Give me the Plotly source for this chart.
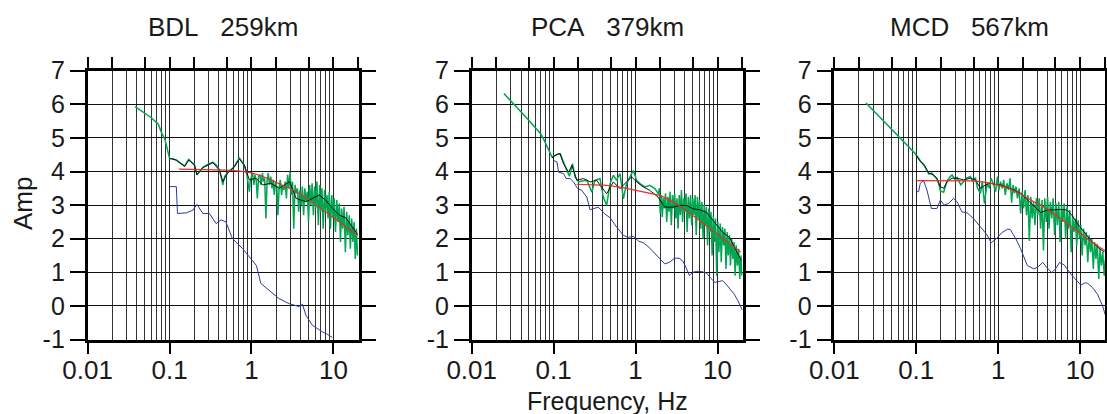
import math
import plotly.graph_objects as go

# ---------------- data ----------------
titles = ["BDL\u00a0\u00a0\u00a0259km", "PCA\u00a0\u00a0\u00a0379km", "MCD\u00a0\u00a0\u00a0567km"]
y_tick_vals = [-1, 0, 1, 2, 3, 4, 5, 6, 7]
y_tick_text = ["-1", "0", "1", "2", "3", "4", "5", "6", "7"]
x_tick_vals = [0.01, 0.1, 1, 10]
x_tick_text = ["0.01", "0.1", "1", "10"]
x_top_tick_vals = [0.01, 0.02, 0.05, 0.1, 0.2, 0.5, 1, 2, 5, 10, 20]

# BDL
bdl_green_f = [0.038, 0.06, 0.073, 0.08, 0.088, 0.1,
               0.11, 0.121, 0.135, 0.153, 0.165, 0.172, 0.185, 0.202, 0.216, 0.235, 0.255, 0.29, 0.338, 0.37,
               0.407, 0.43, 0.447, 0.47, 0.514, 0.56, 0.619, 0.67, 0.713, 0.76, 0.819, 0.88, 0.942, 0.97, 1.0,
               1.03, 1.07, 1.1, 1.14, 1.18, 1.22, 1.27, 1.31, 1.36, 1.4, 1.45, 1.5, 1.55, 1.6, 1.66, 1.72, 1.78,
               1.84, 1.9, 1.97, 2.04, 2.1, 2.18, 2.25, 2.33, 2.41, 2.5, 2.58, 2.67, 2.76, 2.86, 2.96, 3.06, 3.17,
               3.28, 3.4, 3.52, 3.64, 3.77, 3.9, 4.04, 4.18, 4.33, 4.48, 4.63, 4.8, 4.97, 5.14, 5.32, 5.5, 5.7,
               5.9, 6.1, 6.3, 6.55, 6.8, 7.0, 7.25, 7.5, 7.8, 8.05, 8.35, 8.6, 8.9, 9.2, 9.55, 9.9, 10.2, 10.6,
               11.0, 11.4, 11.8, 12.2, 12.6, 13.0, 13.5, 14.0, 14.5, 15.0, 15.6, 16.1, 16.7, 17.3, 17.9, 18.5,
               19.1, 19.7]
bdl_green_a = [5.93, 5.6, 5.41, 5.15, 4.95, 4.39,
               4.38, 4.34, 4.25, 4.16, 4.3, 4.36, 4.28, 4.19, 3.9, 4.02, 4.12, 4.2, 4.28, 4.2,
               4.04, 3.8, 3.6, 3.85, 3.98, 4.05, 4.15, 4.3, 4.4, 4.3, 4.18, 3.9, 3.4, 3.75, 3.85,
               3.95, 3.6, 3.9, 3.75, 3.2, 3.85, 3.9, 3.6, 3.95, 3.7, 3.8, 2.6, 3.7, 3.95, 3.6, 3.85, 3.5,
               3.75, 3.3, 3.7, 3.55, 2.7, 3.55, 3.75, 3.3, 3.6, 3.45, 3.7, 3.2, 3.9, 3.5, 3.98, 3.3, 3.7,
               2.3, 3.6, 3.35, 3.5, 2.8, 3.45, 3.0, 3.55, 2.7, 3.5, 3.1, 3.4, 2.5, 3.6, 3.0, 3.65, 2.7,
               3.55, 2.9, 3.7, 2.4, 3.6, 2.8, 3.5, 2.3, 3.45, 2.8, 3.3, 2.6, 3.4, 2.3, 3.3, 2.6, 3.2, 2.2,
               3.15, 2.5, 3.05, 1.9, 2.9, 2.3, 2.95, 1.6, 2.8, 2.1, 2.7, 1.7, 2.6, 1.9, 2.5, 1.4,
               2.3, 1.5]
bdl_black_f = [0.1, 0.121, 0.153, 0.172, 0.202, 0.216, 0.255, 0.338, 0.407, 0.447, 0.514, 0.619, 0.713,
               0.819, 0.942, 1.135, 1.368, 1.728, 2.18, 2.92, 3.5, 4.6, 6.7, 8.0, 9.8, 11.8, 14.2, 17.2, 19.8]
bdl_black_a = [4.39, 4.34, 4.16, 4.34, 4.19, 3.9, 4.12, 4.26, 4.04, 3.7, 3.96, 4.14, 4.37,
               4.19, 3.75, 3.8, 3.6, 3.65, 3.5, 3.7, 3.2, 3.1, 3.3, 3.15, 2.9, 2.7, 2.62, 2.35, 2.12]
bdl_red_f = [0.13, 0.3, 0.5, 0.72, 1.0, 1.27, 1.7, 2.2, 2.9, 3.85, 5.0, 6.7, 8.9, 11.8, 15.3, 19.7]
bdl_red_a = [4.07, 4.06, 4.04, 4.01, 3.96, 3.88, 3.77, 3.63, 3.5, 3.34, 3.17, 2.94, 2.72, 2.49, 2.3, 2.1]
bdl_blue_f = [0.1, 0.121, 0.125, 0.16, 0.193, 0.216, 0.255, 0.307, 0.37, 0.425, 0.487, 0.587, 0.776,
              1.03, 1.15, 1.3, 1.63, 2.16, 2.86, 3.79, 4.2, 4.6, 5.5, 7.3, 8.5, 9.7]
bdl_blue_a = [3.55, 3.55, 2.75, 2.77, 2.85, 3.02, 2.75, 2.75, 2.45, 2.56, 2.5, 2.0, 1.71,
              1.36, 1.2, 0.67, 0.47, 0.22, 0.07, -0.02, 0.05, -0.27, -0.57, -0.77, -0.85, -0.94]

# PCA
pca_green_f = [0.0247, 0.031, 0.05, 0.0689, 0.075, 0.0955,
               0.11, 0.12, 0.135, 0.145, 0.156, 0.17, 0.183, 0.201, 0.22, 0.254, 0.292, 0.32, 0.368, 0.404,
               0.444, 0.488, 0.535, 0.588, 0.645, 0.71, 0.777, 0.854, 0.937, 1.03, 1.13, 1.3, 1.49, 1.72, 1.89,
               1.95, 2.0, 2.06, 2.12, 2.18, 2.25, 2.32, 2.4, 2.48, 2.56, 2.64, 2.73, 2.82, 2.91, 3.0, 3.1, 3.2,
               3.3, 3.41, 3.52, 3.63, 3.75, 3.87, 4.0, 4.13, 4.26, 4.4, 4.54, 4.69, 4.84, 5.0, 5.16, 5.33, 5.5,
               5.68, 5.86, 6.05, 6.25, 6.45, 6.66, 6.88, 7.1, 7.33, 7.57, 7.82, 8.07, 8.33, 8.6, 8.88, 9.17,
               9.47, 9.78, 10.1, 10.4, 10.8, 11.1, 11.5, 11.9, 12.3, 12.7, 13.1, 13.5, 14.0, 14.4, 14.9, 15.4,
               15.9, 16.4, 16.9, 17.5, 18.1, 18.7, 19.3, 19.9]
pca_green_a = [6.32, 6.07, 5.52, 5.13, 4.98, 4.43,
               4.51, 4.53, 4.18, 4.03, 3.86, 4.23, 3.84, 3.69, 3.72, 3.74, 3.39, 3.74, 3.79, 3.24,
               2.99, 3.64, 3.89, 3.74, 3.94, 3.19, 3.64, 3.84, 4.03, 3.74, 3.64, 3.54, 3.59, 3.49, 3.34,
               3.5, 2.75, 3.3, 2.65, 3.2, 2.9, 3.35, 2.5, 3.25, 2.8, 3.4, 2.4, 3.3, 2.9, 3.35, 2.6, 3.2,
               2.3, 3.3, 2.7, 3.45, 2.5, 3.2, 2.8, 3.35, 2.2, 3.25, 2.6, 3.3, 2.4, 3.2, 2.7, 3.3, 2.1,
               3.25, 2.6, 3.15, 2.3, 3.1, 2.0, 3.0, 2.4, 2.95, 1.8, 2.9, 2.2, 2.8, 1.5, 2.7, 1.9,
               2.6, 0.9, 2.5, 1.6, 2.45, 1.3, 2.35, 1.8, 2.3, 1.1, 2.2, 1.5, 2.1, 1.2, 2.0, 1.4,
               1.9, 0.9, 1.8, 1.2, 1.7, 0.8, 1.5, 0.9]
pca_black_f = [0.0955, 0.110, 0.120, 0.132, 0.152, 0.167, 0.192, 0.231, 0.279, 0.336, 0.369, 0.444, 0.535,
               0.645, 0.777, 0.894, 1.03, 1.24, 1.49, 1.88, 2.27, 2.86, 3.45, 4.16, 5.01, 6.04, 7.28, 8.77,
               11.6, 14.0, 17.1, 19.6]
pca_black_a = [4.41, 4.51, 4.53, 4.23, 3.98, 4.18, 3.74, 3.79, 3.69, 3.74, 3.59, 3.34, 3.69,
               3.49, 3.69, 3.84, 3.69, 3.54, 3.44, 3.24, 2.94, 2.94, 2.99, 2.99, 2.89, 2.86, 2.79, 2.54,
               2.19, 2.04, 1.64, 1.34]
pca_red_f = [0.19, 0.3, 0.44, 0.7, 1.0, 1.4, 1.98, 2.5, 3.15, 4.0, 5.0, 6.3, 7.97, 10, 12.7, 15.8, 19.3]
pca_red_a = [3.62, 3.61, 3.59, 3.52, 3.44, 3.37, 3.29, 3.17, 3.04, 2.87, 2.69, 2.52, 2.34, 2.13, 1.95, 1.78, 1.6]
pca_blue_f = [0.1, 0.11, 0.115, 0.132, 0.142, 0.159, 0.175, 0.196, 0.22, 0.254, 0.278, 0.305, 0.35, 0.42,
              0.49, 0.59, 0.71, 0.81, 0.94, 1.1, 1.24, 1.45, 1.64, 1.9, 2.27, 2.6, 3.0, 3.4, 3.78, 4.2,
              4.55, 5.0, 5.6, 6.5, 7.4, 8.3, 9.3, 10.5, 11.5, 12.7, 14.2, 16, 17.8, 19.3, 20]
pca_blue_a = [4.33, 4.28, 3.98, 3.94, 3.79, 3.79, 3.69, 3.49, 3.44, 3.24, 2.86, 2.89, 2.94, 2.74,
              2.62, 2.34, 2.1, 2.04, 2.07, 1.92, 1.88, 1.75, 1.62, 1.45, 1.25, 1.3, 1.42, 1.42, 1.33, 1.1,
              0.9, 1.0, 1.03, 1.02, 0.97, 0.82, 0.7, 0.73, 0.75, 0.65, 0.5, 0.35, 0.15, -0.05, -0.12]

# MCD
mcd_green_f = [0.0244, 0.05, 0.097,
               0.112, 0.125, 0.142, 0.155, 0.163, 0.179, 0.19, 0.197, 0.216, 0.238, 0.26, 0.274, 0.3, 0.315,
               0.35, 0.38, 0.41, 0.458, 0.49, 0.527, 0.56, 0.608, 0.64, 0.68, 0.733, 0.78, 0.82, 0.885, 0.93,
               0.98, 1.02, 1.07, 1.12,
               1.17, 1.22, 1.28, 1.34, 1.4, 1.46, 1.52, 1.58, 1.65, 1.72, 1.8, 1.88, 1.96, 2.04, 2.13, 2.22,
               2.31, 2.4, 2.5, 2.6, 2.7, 2.81, 2.93, 3.05, 3.17, 3.3, 3.43, 3.57, 3.71, 3.86, 4.01, 4.17, 4.34,
               4.51, 4.69, 4.88, 5.07, 5.27, 5.48, 5.7, 5.93, 6.16, 6.41, 6.66, 6.93, 7.2, 7.49, 7.78, 8.09,
               8.42, 8.75, 9.1, 9.46, 9.84, 10.2, 10.6, 11.0, 11.5, 11.9, 12.4, 12.9, 13.4, 13.9, 14.5, 15.0,
               15.6, 16.2, 16.9, 17.5, 18.2, 18.9, 19.7, 20.4]
mcd_green_a = [6.04, 5.26, 4.54,
               4.32, 4.18, 3.93, 3.95, 3.88, 3.78, 3.6, 3.42, 3.38, 3.72, 3.85, 3.9, 3.75, 3.82,
               3.6, 3.72, 3.8, 3.85, 3.7, 3.82, 3.5, 3.35, 3.7, 3.05, 3.65, 3.5, 3.8, 3.6, 3.4,
               3.85, 3.45, 3.7, 3.5,
               3.75, 3.3, 3.65, 3.45, 3.8, 3.07, 3.6, 3.35, 3.55, 3.2, 3.5, 2.75, 3.4, 2.9, 3.45, 2.7,
               3.3, 1.93, 3.25, 2.6, 3.1, 2.4, 3.2, 2.7, 3.2, 2.3, 3.15, 1.65, 3.2, 2.5, 3.25, 2.3, 3.1,
               2.6, 3.2, 2.1, 3.05, 2.4, 3.1, 1.9, 3.0, 2.5, 3.05, 2.0, 2.95, 2.3, 2.85, 1.6, 2.7,
               2.2, 2.6, 1.8, 2.55, 2.0, 2.4, 1.5, 2.3, 1.8, 2.2, 1.3, 2.1, 1.6, 2.0, 1.1, 1.9,
               1.4, 1.85, 0.8, 1.7, 1.2, 1.6, 0.9, 1.4]
mcd_black_f = [0.099, 0.112, 0.125, 0.142, 0.163, 0.179, 0.197, 0.216, 0.238, 0.274, 0.315, 0.38, 0.458,
               0.527, 0.608, 0.7, 0.8, 0.9, 1.07, 1.29, 1.56, 1.88, 2.27, 2.73, 3.3, 4.0, 4.81, 5.8, 7.0,
               8.05, 9.27, 11.2, 13.5, 16.3, 19.7]
mcd_black_a = [4.5, 4.3, 4.2, 3.95, 3.9, 3.8, 3.55, 3.5, 3.7, 3.8, 3.8, 3.75, 3.8,
               3.75, 3.5, 3.6, 3.65, 3.62, 3.6, 3.53, 3.45, 3.35, 3.15, 2.95, 2.78, 2.85, 2.86, 2.87, 2.85,
               2.68, 2.45, 2.2, 1.95, 1.75, 1.6]
mcd_red_f = [0.1, 0.3, 0.5, 0.75, 1.07, 1.4, 1.88, 2.73, 3.3, 3.98, 5.8, 8.5, 10.2, 12.4, 16, 19.5, 20.5]
mcd_red_a = [3.73, 3.73, 3.72, 3.67, 3.58, 3.48, 3.33, 3.1, 3.0, 2.87, 2.6, 2.28, 2.16, 1.98, 1.8, 1.68, 1.63]
mcd_blue_f = [0.099, 0.107, 0.112, 0.123, 0.135, 0.153, 0.179, 0.197, 0.22, 0.248, 0.286, 0.315, 0.36,
              0.417, 0.5, 0.608, 0.733, 0.82, 0.97, 1.11, 1.29, 1.4, 1.64, 1.88, 2.27, 2.73, 3.1, 3.5,
              3.9, 4.5, 5.0, 5.6, 6.4, 7.7, 9.27, 10.2, 11.6, 12.4, 14.1, 16.3, 18.8, 20.5]
mcd_blue_a = [3.4, 3.4, 3.65, 3.73, 3.45, 2.9, 2.9, 3.15, 3.0, 3.05, 3.2, 3.1, 2.8,
              2.77, 2.6, 2.36, 2.11, 1.88, 2.02, 2.18, 2.28, 2.28, 2.0, 1.7, 1.2, 1.1, 1.17, 1.3,
              1.15, 0.99, 1.1, 1.29, 1.22, 0.95, 0.75, 0.62, 0.69, 0.67, 0.55, 0.35, 0.0, -0.3]

panels = [
    (bdl_green_f, bdl_green_a, bdl_black_f, bdl_black_a, bdl_red_f, bdl_red_a, bdl_blue_f, bdl_blue_a),
    (pca_green_f, pca_green_a, pca_black_f, pca_black_a, pca_red_f, pca_red_a, pca_blue_f, pca_blue_a),
    (mcd_green_f, mcd_green_a, mcd_black_f, mcd_black_a, mcd_red_f, mcd_red_a, mcd_blue_f, mcd_blue_a),
]
for p in panels:
    for i in range(0, 8, 2):
        assert len(p[i]) == len(p[i + 1]), (len(p[i]), len(p[i + 1]))

# ---------------- styles / layout ----------------
W, H = 1107, 414
FONT = "Liberation Sans, Arial, Helvetica, sans-serif"
GREEN, BLACK, RED, BLUE = "#00a651", "#111111", "#ee2a24", "#2e3a9c"
x_dom_px = [(87.6, 358.6), (471.7, 742.7), (834.3, 1105.3)]
y_top_px, y_bot_px = 70.7, 339.5
x_range = [-2, math.log10(20.3)]
minor_vals = [k * d for d in (0.01, 0.1, 1, 10) for k in range(2, 10) if k * d <= 20.3]

fig = go.Figure()
layout = dict(
    width=W, height=H, margin=dict(l=0, r=0, t=0, b=0, pad=0, autoexpand=False),
    paper_bgcolor="white", plot_bgcolor="white", showlegend=False,
    font=dict(family=FONT, size=26, color="#1a1a1a"),
)
annotations = []
for i, p in enumerate(panels):
    n = i + 1
    xa = "x" if n == 1 else f"x{n}"
    ya = "y" if n == 1 else f"y{n}"
    xt = f"x{n + 3}"
    gf, ga, kf, ka, rf, ra, bf, ba = p
    fig.add_trace(go.Scatter(x=gf, y=ga, mode="lines", line=dict(color=GREEN, width=1.5),
                             xaxis=xa, yaxis=ya, hoverinfo="skip"))
    fig.add_trace(go.Scatter(x=bf, y=ba, mode="lines", line=dict(color=BLUE, width=1),
                             xaxis=xa, yaxis=ya, hoverinfo="skip"))
    fig.add_trace(go.Scatter(x=kf, y=ka, mode="lines", line=dict(color=BLACK, width=1),
                             xaxis=xa, yaxis=ya, hoverinfo="skip"))
    fig.add_trace(go.Scatter(x=rf, y=ra, mode="lines", line=dict(color=RED, width=1.2),
                             xaxis=xa, yaxis=ya, hoverinfo="skip"))
    # invisible helper so the top tick axis is drawn
    fig.add_trace(go.Scatter(x=[1], y=[None], mode="lines", xaxis=xt, yaxis=ya, hoverinfo="skip"))

    x0, x1 = x_dom_px[i]
    dom = [x0 / W, x1 / W]
    xname = "xaxis" if n == 1 else f"xaxis{n}"
    yname = "yaxis" if n == 1 else f"yaxis{n}"
    layout[xname] = dict(
        type="log", range=x_range, domain=dom, anchor=ya, automargin=False,
        tickmode="array", tickvals=x_tick_vals, ticktext=x_tick_text,
        ticks="outside", ticklen=12, tickwidth=1.5, tickcolor="black",
        ticklabelstandoff=-6,
        showgrid=True, gridcolor="#222222", gridwidth=1,
        minor=dict(tickmode="array", tickvals=minor_vals, showgrid=True,
                   gridcolor="#333333", gridwidth=1, ticks=""),
        showline=True, linewidth=2.5, linecolor="black", mirror=True,
        zeroline=False, tickfont=dict(size=26), fixedrange=True,
    )
    layout[f"xaxis{n + 3}"] = dict(
        type="log", range=x_range, overlaying=xa, side="top", anchor=ya, automargin=False,
        tickmode="array", tickvals=x_top_tick_vals, showticklabels=False,
        ticks="outside", ticklen=13, tickwidth=1.5, tickcolor="black",
        showgrid=False, showline=False, zeroline=False, fixedrange=True,
    )
    layout[yname] = dict(
        range=[-1, 7], domain=[1 - y_bot_px / H, 1 - y_top_px / H], anchor=xa, automargin=False,
        tickmode="array", tickvals=y_tick_vals, ticktext=y_tick_text,
        ticks="outside", ticklen=15, tickwidth=1.5, tickcolor="black",
        showgrid=True, gridcolor="#111111", gridwidth=1,
        showline=True, linewidth=2.5, linecolor="black", mirror="ticks",
        zeroline=False, tickfont=dict(size=25), fixedrange=True,
    )
    annotations.append(dict(
        text=titles[i], x=(x0 + x1) / 2 / W, y=1 - 26.7 / H, xref="paper", yref="paper",
        xanchor="center", yanchor="middle", showarrow=False, font=dict(size=26, family=FONT)))

annotations.append(dict(text="Amp", x=23 / W, y=1 - 204 / H, xref="paper", yref="paper",
                        xanchor="center", yanchor="middle", textangle=-90, showarrow=False,
                        font=dict(size=26, family=FONT)))
annotations.append(dict(text="Frequency, Hz", x=607 / W, y=1 - 401 / H, xref="paper", yref="paper",
                        xanchor="center", yanchor="middle", showarrow=False,
                        font=dict(size=25, family=FONT)))
layout["annotations"] = annotations
fig.update_layout(**layout)
fig.write_html("out.html")
